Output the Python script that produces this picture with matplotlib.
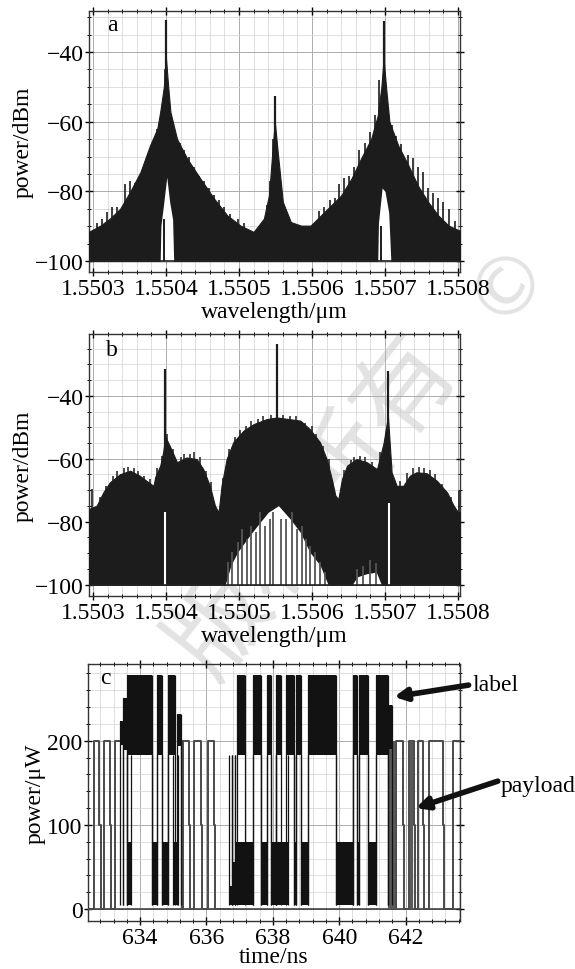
import numpy as np
import matplotlib.pyplot as plt
from matplotlib.ticker import MultipleLocator, FormatStrFormatter

plt.rcParams['font.family'] = ['Liberation Serif', 'DejaVu Serif']
plt.rcParams['font.size'] = 17
plt.rcParams['axes.unicode_minus'] = True

# wavelength positions are given as offsets from 1.5503 um, in units of 1e-4 um
wl0 = 1.5503

# ---- panel a: spectrum, envelope of the dense comb ----
a_env_u = [-0.06, 0.10, 0.23, 0.37, 0.51, 0.65, 0.78, 0.88, 0.92, 0.97, 1.00, 1.03, 1.06,
           1.15, 1.29, 1.47, 1.66, 1.84, 2.02, 2.20, 2.34, 2.41, 2.46, 2.49, 2.53, 2.60,
           2.71, 2.85, 2.98, 3.12, 3.26, 3.40, 3.54, 3.67, 3.81, 3.90, 3.95, 3.98, 4.02,
           4.06, 4.18, 4.32, 4.45, 4.59, 4.73, 4.87, 5.06]
a_env_db = [-91.6, -89.8, -87.8, -85.0, -80.0, -74.4, -66.8, -62.0, -57.2, -50.0, -42.0, -50.0, -57.2,
            -64.9, -70.6, -76.3, -82.1, -86.9, -89.8, -91.6, -87.8, -81.1, -67.7, -60.0, -68.7, -83.0,
            -88.8, -89.8, -89.8, -86.9, -84.0, -81.1, -76.3, -70.6, -64.9, -58.2, -50.0, -42.0, -51.4,
            -60.0, -66.8, -72.5, -78.3, -83.0, -86.9, -89.8, -91.6]
a_peak_u = [1.00, 2.49, 3.98]
a_peak_db = [-30.9, -52.5, -31.0]
a_spk_u = [0.05, 0.12, 0.19, 0.26, 0.33, 0.44, 0.51, 0.58, 0.65, 0.69, 0.76, 0.82, 0.88, 0.93, 0.98,
           1.07, 1.11, 1.19, 1.24, 1.31, 1.38, 1.45, 1.52, 1.59, 1.66, 1.72, 1.79, 1.88, 1.98, 2.07,
           2.39, 2.43, 2.47, 2.52, 2.56, 2.62,
           3.10, 3.17, 3.24, 3.31, 3.37, 3.44, 3.51, 3.58, 3.65, 3.72, 3.79, 3.86, 3.92,
           4.04, 4.09, 4.15, 4.22, 4.31, 4.38, 4.45, 4.52, 4.59, 4.66, 4.73, 4.80, 4.87, 4.96]
a_spk_db = [-89, -88, -86, -84.5, -84.5, -78, -77, -77.5, -76.5, -76, -72, -68, -62, -58, -45,
            -58, -62, -66, -68, -70, -73, -75.5, -77, -79, -81, -82.5, -84.5, -86.5, -88, -89,
            -84, -77, -65, -66, -78, -85,
            -85.5, -84.5, -82.5, -82, -78, -76, -75.5, -73, -68, -66, -63, -58, -48,
            -56, -61, -64, -66.5, -69.5, -70.5, -73, -74.5, -79, -80.5, -82, -83, -85, -88.5]
# white gaps under the two carriers
a_notch1_u = [0.92, 0.93, 0.96, 1.01, 1.05, 1.09, 1.105]
a_notch1_db = [-100, -89.8, -84.8, -75.9, -83.0, -88.0, -100]
a_notch2_u = [3.90, 3.91, 3.96, 4.00, 4.05, 4.08]
a_notch2_db = [-100, -89.0, -79.0, -80.0, -86.0, -100]
a_mid_u = [0.975, 3.94]
a_mid_db = [-88, -90]

# ---- panel b ----
b_env_u = [-0.06, 0.05, 0.14, 0.23, 0.37, 0.51, 0.64, 0.76, 0.83, 0.85, 0.92, 0.96, 0.99, 1.05,
           1.15, 1.28, 1.42, 1.51, 1.60, 1.67, 1.72, 1.76, 1.83, 1.92, 2.06, 2.20, 2.38, 2.52,
           2.65, 2.84, 2.97, 3.11, 3.20, 3.27, 3.32, 3.36, 3.41, 3.48, 3.61, 3.75, 3.89, 3.98,
           4.04, 4.09, 4.16, 4.25, 4.34, 4.43, 4.57, 4.71, 4.85, 4.94, 5.00, 5.06]
b_env_db = [-76.0, -74.9, -70.7, -67.5, -64.9, -63.8, -65.4, -67.5, -68.6, -65.9, -62.2, -58.0, -53.0, -55.9,
            -61.1, -59.6, -60.1, -63.3, -68.6, -74.9, -77.0, -68.6, -60.1, -54.8, -51.1, -49.0, -47.4, -46.9,
            -47.3, -47.9, -50.6, -54.8, -60.1, -66.4, -71.7, -72.8, -66.4, -62.2, -60.1, -61.1, -63.3, -55.0,
            -46.5, -64.3, -68.6, -68.6, -65.4, -64.3, -64.6, -67.0, -70.7, -74.9, -77.0, -77.0]
b_peak_u = [0.99, 2.52, 4.04]
b_peak_db = [-31.5, -23.6, -32.1]
b_side_u = [-0.02, 5.02]
b_side_db = [-69.5, -70.2]
# small comb lines sticking out of the lobe tops
b_spk_u = [0.10, 0.18, 0.27, 0.33, 0.42, 0.48, 0.56, 0.62, 0.70, 0.78,
           0.88, 0.94, 1.02, 1.10, 1.20, 1.25, 1.33, 1.38, 1.46, 1.55, 1.62,
           1.78, 1.86, 1.95, 2.02, 2.10, 2.17, 2.26, 2.33, 2.44, 2.60, 2.70, 2.78, 2.90, 3.00, 3.06, 3.15, 3.23,
           3.44, 3.53, 3.58, 3.66, 3.72, 3.82, 3.93,
           4.20, 4.30, 4.38, 4.47, 4.53, 4.62, 4.68, 4.78, 4.90]
b_spk_db = [-72, -68.5, -65.5, -64, -63, -62.5, -63, -64, -65.5, -66.5,
            -63, -59, -52, -57, -59.5, -58.5, -58.5, -58, -59.5, -64, -67.5,
            -66, -57, -53, -51, -49.5, -48, -47.5, -46.5, -46, -46, -46.5, -46.5, -48.5, -49.5, -52, -56, -60,
            -63.5, -60.5, -59.5, -59, -59.5, -61, -58,
            -67, -64.5, -63, -62.5, -63, -63.5, -65, -68, -72]
# white region below the central lobe
b_hole_u = [1.81, 1.89, 1.98, 2.11, 2.25, 2.40, 2.54, 2.70, 2.84, 2.97, 3.11, 3.22]
b_hole_db = [-100, -93.8, -89.7, -85.5, -81.3, -77.0, -74.9, -79.1, -83.4, -89.7, -93.8, -100]
b_hole2_u = [3.55, 3.62, 3.75, 3.88, 3.95]
b_hole2_db = [-100, -97.5, -96.5, -96.0, -100]
b_grass_u = [1.85, 1.91, 1.98, 2.04, 2.11, 2.17, 2.23, 2.29, 2.36, 2.42, 2.47, 2.58, 2.65, 2.72,
             2.79, 2.86, 2.92, 2.97, 3.04, 3.11, 3.18, 3.62, 3.70, 3.80, 3.88]
b_grass_db = [-92.9, -89.7, -86.5, -82.3, -85.5, -81.3, -83.4, -77.0, -81.3, -79.1, -77.0, -79.1, -79.1, -77.0,
              -82.3, -81.3, -85.5, -87.6, -89.7, -92.9, -96.1, -95.0, -94.0, -92.0, -93.0]
b_slit_u = [0.99, 4.05]
b_slit_db = [-77.0, -73.9]

# ---- panel c: time trace ----
# payload outside the label windows (step levels, uW)
pay1_t = [632.43, 632.61, 632.77, 632.81, 632.91, 633.09, 633.13, 633.23, 633.41]
pay1_v = [0, 200, 100, 0, 200, 100, 0, 200, 200]
pay2_t = [635.22, 635.25, 635.28, 635.46, 635.50, 635.61, 635.83, 635.87, 636.04, 636.22, 636.26, 636.68]
pay2_v = [200, 0, 200, 100, 0, 200, 100, 0, 200, 100, 0, 0]
pay3_t = [641.62, 641.71, 641.92, 641.96, 642.10, 642.25, 642.29, 642.37, 642.52, 642.56,
          642.70, 643.13, 643.17, 643.43, 643.64]
pay3_v = [0, 200, 100, 0, 200, 100, 0, 200, 100, 0, 200, 100, 0, 200, 200]
tail_t = [641.50, 641.56, 641.62, 641.66, 642.15, 642.19]
# label blocks: start, end, band (H = on payload "1", L = on payload "0"), relative depth
lab_t0 = [633.41, 633.50, 633.60, 633.62, 634.35, 634.52, 634.66, 634.85, 635.00, 635.10,
          636.68, 636.76, 636.85, 636.91, 637.39, 637.63, 637.82, 637.94, 638.09, 638.09,
          638.39, 638.63, 638.69, 638.84, 639.05, 639.90, 640.41, 640.55, 640.60, 640.86,
          641.10, 641.48]
lab_t1 = [633.50, 633.60, 634.35, 633.74, 634.52, 634.66, 634.85, 635.05, 635.15, 635.22,
          636.76, 636.85, 637.39, 637.15, 637.63, 637.82, 637.94, 638.09, 638.24, 638.45,
          638.63, 638.69, 638.84, 639.05, 639.90, 640.41, 640.55, 640.60, 640.86, 641.10,
          641.48, 641.58]
lab_band = ['H', 'H', 'H', 'L', 'L', 'H', 'L', 'H', 'L', 'H',
            'L', 'L', 'L', 'H', 'H', 'L', 'H', 'L', 'H', 'L',
            'H', 'L', 'H', 'L', 'H', 'L', 'H', 'L', 'H', 'L',
            'H', 'H']
lab_amp = [0.3, 0.65, 1, 1, 1, 1, 1, 1, 1, 0.4,
           0.35, 0.7, 1, 1, 1, 1, 1, 1, 1, 1,
           1, 1, 1, 1, 1, 1, 1, 1, 1, 1,
           1, 0.55]
H_lo, H_hi = 183, 278
L_lo, L_hi = 5, 80

DARK = '#1c1c1c'


def wl(u):
    return wl0 + np.asarray(u) * 1e-4


def style(ax):
    ax.set_facecolor('none')
    ax.set_axisbelow(True)
    ax.grid(which='major', color='#adadad', lw=0.7)
    ax.grid(which='minor', color='#d2d2d2', lw=0.5)
    ax.tick_params(which='both', direction='inout', top=True, right=True, pad=1)
    ax.tick_params(which='major', length=6, width=1)
    ax.tick_params(which='minor', length=3, width=0.7)
    for s in ax.spines.values():
        s.set_color('#333333')
        s.set_linewidth(1.0)


fig = plt.figure(figsize=(5.75, 9.7), dpi=100)

# watermark, behind the data
fig.text(0.545, 0.478, '版权所有', rotation=52, fontsize=72, color='#e3e3e3', fontweight='light',
         family=['Noto Sans CJK SC', 'DejaVu Sans'], ha='center', va='center', zorder=-1)
fig.text(0.883, 0.711, '©', rotation=52, fontsize=58, color='#e3e3e3',
         family=['DejaVu Sans'], ha='center', va='center', zorder=-1)

ax_a = fig.add_axes([0.1548, 0.7186, 0.6452, 0.2691])
ax_b = fig.add_axes([0.1548, 0.3845, 0.6452, 0.2701])
ax_c = fig.add_axes([0.1530, 0.0495, 0.6470, 0.2649])

# panel a
ax_a.fill_between(wl(a_env_u), -100, a_env_db, color=DARK, lw=0.8, zorder=3)
ax_a.vlines(wl(a_spk_u), -100, a_spk_db, color=DARK, lw=1.2, zorder=3)
ax_a.vlines(wl(a_peak_u), -100, a_peak_db, color=DARK, lw=1.6, zorder=3)
ax_a.fill_between(wl(a_notch1_u), -100, a_notch1_db, color='white', lw=0, zorder=4)
ax_a.fill_between(wl(a_notch2_u), -100, a_notch2_db, color='white', lw=0, zorder=4)
ax_a.vlines(wl(a_mid_u), -100, a_mid_db, color=DARK, lw=1.4, zorder=4)
ax_a.axhline(-100, color='#222222', lw=1.2, zorder=5)
ax_a.set_ylim(-103.1, -28.2)

# panel b
ax_b.fill_between(wl(b_env_u), -100, b_env_db, color=DARK, lw=0.8, zorder=3)
ax_b.vlines(wl(b_spk_u), -100, b_spk_db, color=DARK, lw=1.1, zorder=3)
ax_b.vlines(wl(b_peak_u), -100, b_peak_db, color=DARK, lw=1.6, zorder=3)
ax_b.vlines(wl(b_side_u), -100, b_side_db, color=DARK, lw=1.2, zorder=3)
ax_b.fill_between(wl(b_hole_u), -100, b_hole_db, color='white', lw=0, zorder=4)
ax_b.fill_between(wl(b_hole2_u), -100, b_hole2_db, color='white', lw=0, zorder=4)
ax_b.vlines(wl(b_grass_u), -100, b_grass_db, color='#555555', lw=1.3, zorder=4)
ax_b.vlines(wl(b_slit_u), -100, b_slit_db, color='white', lw=1.5, zorder=4)
ax_b.axhline(-100, color='#222222', lw=1.2, zorder=5)
ax_b.set_ylim(-103.6, -20.4)

for ax in (ax_a, ax_b):
    ax.set_xlim(wl(-0.055), wl(5.027))
    ax.xaxis.set_major_locator(MultipleLocator(1e-4))
    ax.xaxis.set_minor_locator(MultipleLocator(2e-5))
    ax.xaxis.set_major_formatter(FormatStrFormatter('%.4f'))
    ax.yaxis.set_major_locator(MultipleLocator(20))
    ax.yaxis.set_minor_locator(MultipleLocator(5))
    ax.set_xlabel('wavelength/μm', labelpad=2)
    ax.set_ylabel('power/dBm', labelpad=1)
    style(ax)

ax_a.text(0.062, 0.948, 'a', transform=ax_a.transAxes, ha='center', va='center', zorder=6)
ax_b.text(0.062, 0.940, 'b', transform=ax_b.transAxes, ha='center', va='center', zorder=6)

# panel c
for t, v in ((pay1_t, pay1_v), (pay2_t, pay2_v), (pay3_t, pay3_v)):
    ax_c.plot(t, v, drawstyle='steps-post', color='#4a4a4a', lw=1.4, zorder=3)
ax_c.vlines(tail_t, 0, 200, color='#5a5a5a', lw=1.6, zorder=3)
for t0, t1, band, amp in zip(lab_t0, lab_t1, lab_band, lab_amp):
    if band == 'H':
        lo, hi = 200 - (200 - H_lo) * amp, 200 + (H_hi - 200) * amp
    else:
        lo, hi = L_lo, L_hi * amp
    ax_c.fill_between([t0, t1], lo, hi, color='#121212', lw=0, zorder=4)
    ax_c.vlines([t0, t1], L_lo, hi if band == 'H' else H_lo, color='#121212', lw=0.9, zorder=4)
ax_c.axhline(0, color='#333333', lw=1.1, zorder=2)

ax_c.set_xlim(632.43, 643.64)
ax_c.set_ylim(-14, 291)
ax_c.xaxis.set_major_locator(MultipleLocator(2))
ax_c.xaxis.set_minor_locator(MultipleLocator(0.4))
ax_c.yaxis.set_major_locator(MultipleLocator(100))
ax_c.yaxis.set_minor_locator(MultipleLocator(20))
ax_c.set_xlabel('time/ns')
ax_c.xaxis.label.set_va('center')
ax_c.xaxis.set_label_coords(0.5, -0.138)
ax_c.set_ylabel('power/μW', labelpad=1)
style(ax_c)
ax_c.text(0.046, 0.946, 'c', transform=ax_c.transAxes, ha='center', va='center', zorder=6)

arrow = dict(arrowstyle='-|>', lw=4, mutation_scale=18, color='#111111', shrinkA=0, shrinkB=0)
ax_c.annotate('', xy=(641.65, 252), xytext=(643.9, 266), arrowprops=arrow, annotation_clip=False)
ax_c.text(644.03, 267, 'label', ha='left', va='center', clip_on=False)
ax_c.annotate('', xy=(642.31, 120), xytext=(644.78, 152), arrowprops=arrow, annotation_clip=False)
ax_c.text(644.85, 147, 'payload', ha='left', va='center', clip_on=False)

fig.savefig('out.png', dpi=100)
